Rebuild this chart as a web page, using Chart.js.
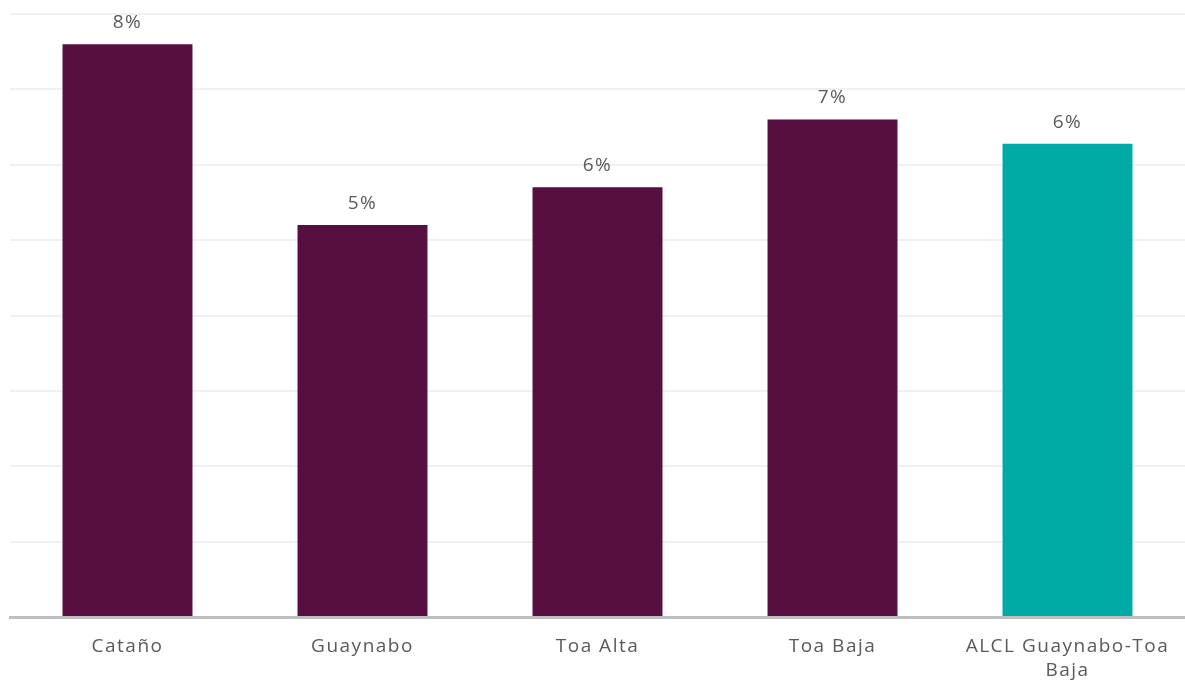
<!DOCTYPE html>
<html>
<head>
<meta charset="utf-8">
<script src="https://cdn.jsdelivr.net/npm/chart.js@4.4.0/dist/chart.umd.min.js"></script>
<style>
    html, body { margin: 0; padding: 0; background: #fff; }
    #wrap { width: 1185px; height: 684px; position: relative; }
</style>
</head>
<body>
<div id="wrap"><canvas id="barChart"></canvas></div>
<script>
// ====== Data ======
const CATEGORIES = ["Cataño", "Guaynabo", "Toa Alta", "Toa Baja", ["ALCL Guaynabo-Toa", "Baja"]];
const VALUES = [0.076, 0.052, 0.057, 0.066, 0.0628];
const BAR_COLORS = [
    "#570f41", // Cataño
    "#570f41", // Guaynabo
    "#570f41", // Toa Alta
    "#570f41", // Toa Baja
    "#00aba6", // ALCL (teal)
];
const Y_MAX = 0.08;
const Y_STEP = 0.01;

const FONT_FAMILY = "'Open Sans', 'Noto Sans', sans-serif";

// ---- Value labels on top of bars ----
const barLabels = {
    id: 'barLabels',
    beforeDraw(chart) {
        chart.ctx.letterSpacing = '1.5px';
    },
    afterDatasetsDraw(chart) {
        const ctx = chart.ctx;
        const meta = chart.getDatasetMeta(0);
        ctx.save();
        ctx.font = '19px ' + FONT_FAMILY;
        ctx.fillStyle = '#5a5a5a';
        ctx.textAlign = 'center';
        ctx.textBaseline = 'bottom';
        meta.data.forEach((bar, i) => {
            const v = chart.data.datasets[0].data[i];
            ctx.fillText(Math.round(v * 100) + '%', bar.x, bar.y - 12);
        });
        ctx.restore();
    }
};

const ctx = document.getElementById('barChart');
window.barChart = new Chart(ctx, {
    type: 'bar',
    data: {
        labels: CATEGORIES,
        datasets: [{
            data: VALUES,
            backgroundColor: BAR_COLORS,
            borderWidth: 0,
            categoryPercentage: 1,
            barPercentage: 0.553
        }]
    },
    options: {
        responsive: true,
        maintainAspectRatio: false,
        animation: false,
        layout: {padding: {left: 10, right: 0, top: 14, bottom: 0}},
        plugins: {
            legend: {display: false},
            tooltip: {enabled: false}
        },
        scales: {
            x: {
                grid: {display: false, drawTicks: false},
                border: {display: true, color: '#bfbfbf', width: 3},
                ticks: {
                    color: '#5a5a5a',
                    font: {size: 19, family: FONT_FAMILY, lineHeight: 1.3},
                    padding: 17,
                    maxRotation: 0,
                    autoSkip: false
                },
                afterFit: scale => { scale.height = 67; }
            },
            y: {
                min: 0,
                max: Y_MAX,
                ticks: {display: false, stepSize: Y_STEP},
                grid: {color: '#f0f0f0', lineWidth: 2, drawTicks: false},
                border: {display: false},
                afterFit: scale => { scale.width = 0; }
            }
        }
    },
    plugins: [barLabels]
});
</script>
</body>
</html>
